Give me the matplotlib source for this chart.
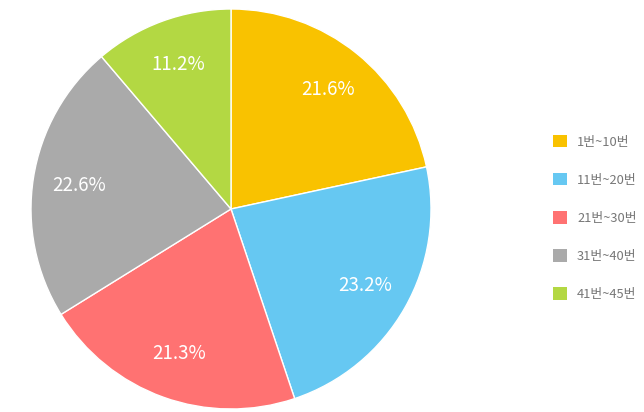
import matplotlib
matplotlib.use("Agg")
import matplotlib.pyplot as plt
from matplotlib.patches import Patch
import numpy as np

plt.rcParams['font.family'] = ['Noto Sans CJK KR', 'DejaVu Sans']

labels = ['1번~10번', '11번~20번', '21번~30번', '31번~40번', '41번~45번']
values = [21.6, 23.2, 21.3, 22.6, 11.2]
colors = ['#F9C200', '#66C8F2', '#FF7272', '#AAAAAA', '#B3D843']

fig = plt.figure(figsize=(6.44, 4.12), dpi=100)
ax = fig.add_axes([31 / 644, 3 / 412, 400 / 644, 400 / 412])

wedges, _ = ax.pie(values, colors=colors, startangle=90, counterclock=False,
                   wedgeprops=dict(edgecolor='white', linewidth=1))

# percentage labels
total = sum(values)
ang = 90.0
for v in values:
    mid = ang - v / total * 360 / 2
    r = 0.77
    ax.text(r * np.cos(np.radians(mid)), r * np.sin(np.radians(mid)), f'{v}%',
            ha='center', va='center', color='white', fontsize=13.5)
    ang -= v / total * 360
ax.set_xlim(-1, 1)
ax.set_ylim(-1, 1)
ax.set_aspect('equal')

handles = [Patch(facecolor=c, edgecolor='none') for c in colors]
leg = fig.legend(handles, labels, loc='center left', bbox_to_anchor=(541 / 644, 194 / 412),
                 frameon=False, fontsize=9.3, labelspacing=1.9, handlelength=1.1,
                 handleheight=1.1, handletextpad=0.8)
for t in leg.get_texts():
    t.set_color('#777777')

fig.savefig('out.png', dpi=100)
